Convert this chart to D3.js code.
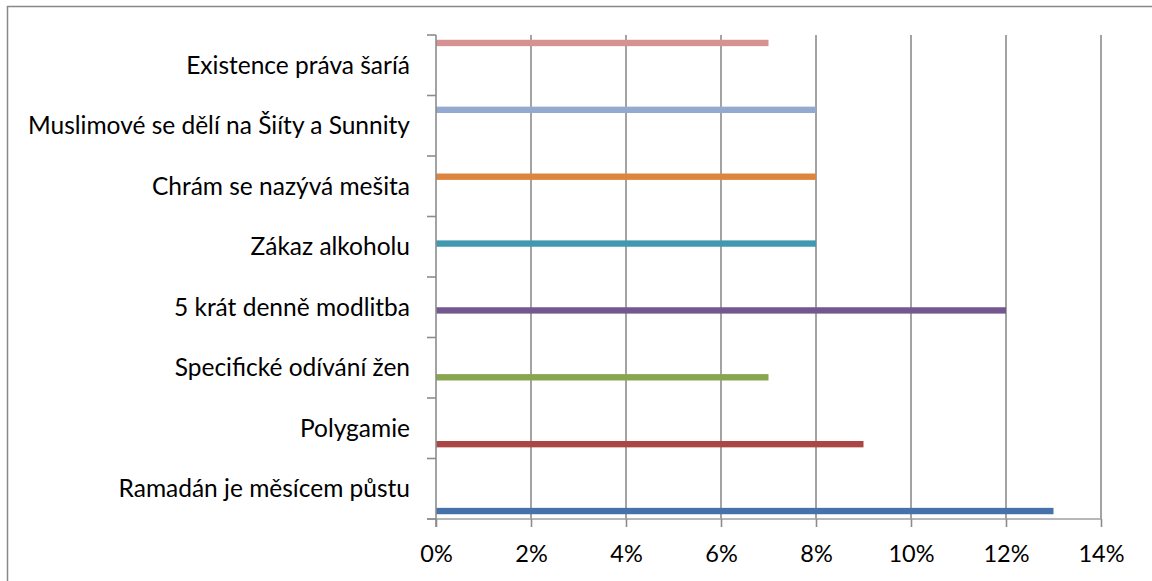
<!DOCTYPE html>
<html>
<head>
<meta charset="utf-8">
<script src="https://cdnjs.cloudflare.com/ajax/libs/d3/7.8.5/d3.min.js"></script>
<style>
  body { margin: 0; background: #fff; }
  svg { display: block; }
  text { font-family: Lato, "Open Sans", sans-serif; fill: #000; }
</style>
</head>
<body>
<div id="chart"></div>
<script>
// categories top -> bottom as drawn; each one is its own series in the source
var categories = [
    "Existence práva šaríá",
    "Muslimové se dělí na Šiíty a Sunnity",
    "Chrám se nazývá mešita",
    "Zákaz alkoholu",
    "5 krát denně modlitba",
    "Specifické odívání žen",
    "Polygamie",
    "Ramadán je měsícem půstu"
];
var values = [7, 8, 8, 8, 12, 7, 9, 13];   // percent
var colors = ["#D59291", "#93A9D0", "#DD853E", "#4199B1", "#72588F", "#89A54E", "#AA4643", "#4672AA"];
var xTicks = [0, 2, 4, 6, 8, 10, 12, 14];

var W = 1152, H = 581;
var margin = {top: 35, right: 51, bottom: 62, left: 436};
var width = W - margin.left - margin.right,
    height = H - margin.top - margin.bottom;

var svg = d3.select("#chart").append("svg")
    .attr("width", W)
    .attr("height", H);

// outer chart frame (right/bottom edges fall outside the picture)
svg.append("rect")
    .attr("x", 7.5).attr("y", 6.5)
    .attr("width", W + 20).attr("height", H + 20)
    .attr("fill", "none")
    .attr("stroke", "#888")
    .attr("stroke-width", 1.5);

var g = svg.append("g")
    .attr("transform", "translate(" + margin.left + "," + margin.top + ")");

var x = d3.scaleLinear().domain([0, 14]).range([0, width]);

var y = d3.scaleBand().domain(categories).range([0, height]);

// slot inside a band: 8 series, gap 150%
var nSeries = categories.length;
var barH = y.bandwidth() / (nSeries + 1.5);

// gridlines
g.append("g")
  .selectAll("line")
  .data(xTicks.slice(1))
  .enter().append("line")
    .attr("x1", d => x(d)).attr("x2", d => x(d))
    .attr("y1", 0).attr("y2", height)
    .attr("stroke", "#8c8c8c")
    .attr("stroke-width", 1.6);

// bars: series i sits in slot i counted from the bottom of its band
g.append("g")
  .selectAll("rect")
  .data(categories)
  .enter().append("rect")
    .attr("x", 0)
    .attr("y", function (d, i) {
        var slot = nSeries - 1 - i;
        return y(d) + y.bandwidth() - 0.75 * barH - (slot + 1) * barH;
    })
    .attr("height", barH)
    .attr("width", (d, i) => x(values[i]))
    .attr("fill", (d, i) => colors[i]);

// x axis
var xAxis = g.append("g")
    .attr("transform", "translate(0," + height + ")")
    .call(d3.axisBottom(x).tickValues(xTicks).tickFormat(d => d + "%").tickSize(8));
xAxis.select(".domain").attr("stroke", "#a0a0a0").attr("stroke-width", 1.5)
    .attr("d", "M-9,0H" + width);
xAxis.selectAll(".tick line").attr("stroke", "#8c8c8c").attr("stroke-width", 1.6);
xAxis.selectAll(".tick text")
    .attr("y", 43).attr("dy", null)
    .style("font-size", "23.5px").style("font-family", "Lato, sans-serif");

// y axis
var yAxis = g.append("g");
yAxis.append("line")
    .attr("x1", 0).attr("x2", 0)
    .attr("y1", 0).attr("y2", height + 8)
    .attr("stroke", "#8c8c8c").attr("stroke-width", 1.6);
yAxis.selectAll(".ytick")
  .data(categories.concat([null]))
  .enter().append("line")
    .attr("class", "ytick")
    .attr("x1", -9).attr("x2", 0)
    .attr("y1", (d, i) => i * y.step())
    .attr("y2", (d, i) => i * y.step())
    .attr("stroke", "#8c8c8c").attr("stroke-width", 1.6);

yAxis.selectAll(".ylabel")
  .data(categories)
  .enter().append("text")
    .attr("class", "ylabel")
    .attr("x", -26)
    .attr("y", d => y(d) + y.bandwidth() / 2 + 8.5)
    .attr("text-anchor", "end")
    .style("font-size", "24.5px")
    .text(d => d);
</script>
</body>
</html>
